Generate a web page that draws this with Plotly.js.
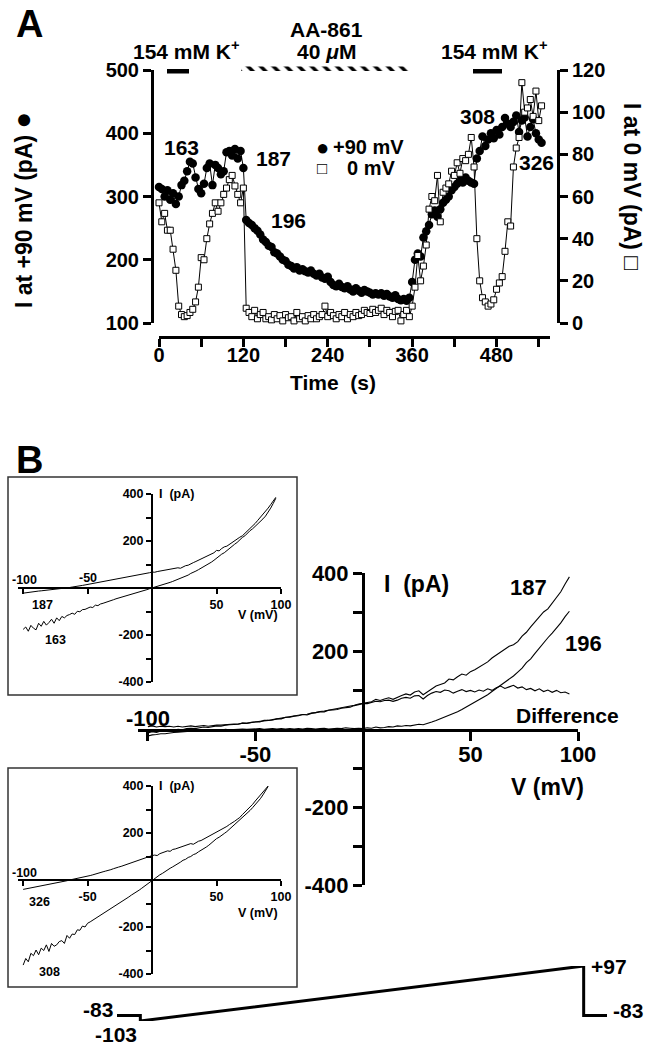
<!DOCTYPE html>
<html><head><meta charset="utf-8">
<script src="https://cdn.plot.ly/plotly-3.0.1.min.js"></script>
<style>html,body{margin:0;padding:0;background:#fff}</style>
</head><body><div id="g" style="width:653px;height:1049px"></div>
<script>
// ---------- Panel A data ----------
const timeS = [0,4,8,12,16,20,24,28,32,36,40,44,48,52,56,60,64,68,72,76,80,84,88,92,96,100,104,108,112,116,120,124,128,132,136,140,144,148,152,156,160,164,168,172,176,180,184,188,192,196,200,204,208,212,216,220,224,228,232,236,240,244,248,252,256,260,264,268,272,276,280,284,288,292,296,300,304,308,312,316,320,324,328,332,336,340,344,348,352,356,360,364,368,372,376,380,384,388,392,396,400,404,408,412,416,420,424,428,432,436,440,444,448,452,456,460,464,468,472,476,480,484,488,492,496,500,504,508,512,516,520,524,528,532,536,540,544];
const iPlus90 = [315,312,300,310,295,305,288,300,318,325,340,355,352,330,312,305,320,345,352,318,350,345,335,340,370,372,365,375,360,372,345,263,258,255,250,246,240,232,228,222,220,212,210,205,200,198,192,190,186,188,183,185,182,180,183,178,175,178,172,170,173,165,160,158,162,157,155,158,153,150,155,151,148,152,150,148,145,147,145,147,143,146,142,140,144,138,136,138,135,140,165,200,210,205,235,245,255,272,278,268,280,290,295,300,310,315,320,325,322,330,325,322,320,360,372,395,380,390,400,392,405,398,410,424,415,410,418,428,402,420,425,395,410,422,400,390,385];
const iZero = [57,48,52,44,44,35,25,8,4,3,3.5,5,6.5,10,17,31,30,40,47,52,57,53,57,61,64,68,70,65,61,57,64,7,5,3,6,2,4,5,2,3,1.5,4,2,3.5,1,4,2.5,3,1,5,2,3,1,3.5,2,4,2,3,4,8,3,5,3.5,2,4,3,5,2,4,3,5,3.5,4,6,5,4.5,6.5,5,6,7,4,6,5,3,5.5,6,1,4,6,3,8,17,32,20,27,37,54,60,58,70,48,62,64,66,72,70,76,71,78,77,80,88,74,40,20,12,10,8,9,11,16,19,22,34,48,46,74,83,88,114,100,102,106,98,110,96,103];
const barLabels = ['154 mM K+','AA-861 40 μM','154 mM K+'];
const barStart = [11,117,446];
const barDur = [32,239,42];
const tickA = [0,120,240,360,480];
const minorTickA = [60,180,300,420,540];

// ---------- Panel B main ----------
const vMain = [-100,-98,-96,-94,-92,-90,-88,-86,-84,-82,-80,-78,-76,-74,-72,-70,-68,-66,-64,-62,-60,-58,-56,-54,-52,-50,-48,-46,-44,-42,-40,-38,-36,-34,-32,-30,-28,-26,-24,-22,-20,-18,-16,-14,-12,-10,-8,-6,-4,-2,0,2,4,6,8,10,12,14,16,18,20,22,24,26,28,30,32,34,36,38,40,42,44,46,48,50,52,54,56,58,60,62,64,66,68,70,72,74,76,78,80,82,84,86,88,90,92,94,96];
const i187 = [-10,-7,-9,-5,-6,-3,-4,-1,-2,1,2,1,3,5,4,6,8,7,10,11,12,12,15,14,17,18,19,21,22,24,26,27,30,31,33,35,37,38,41,42,45,46,48,50,52,54,57,58,61,64,66,68,70,76,73,77,80,76,82,86,90,87,95,98,88,96,104,110,114,118,128,126,134,141,138,147,152,158,165,172,182,190,198,206,212,216,224,238,248,262,274,286,300,308,322,336,352,372,390];
const i196 = [-18,-15,-14,-12,-12,-10,-9,-8,-7,-6,-6,-5,-4,-4,-3,-3,-2,-3,-1,-2,-1,-1,0,-1,0,0,1,-1,0,1,0,1,0,1,0,1,0,2,1,0,1,2,0,1,2,1,3,2,1,2,1,3,2,5,3,4,6,5,8,7,9,8,10,12,11,14,18,22,26,30,36,40,44,50,56,62,68,76,82,88,96,104,110,118,126,136,146,156,170,180,194,208,222,234,246,258,272,288,302];
const iDiff = [6,8,5,7,6,7,5,7,5,7,8,6,7,9,7,9,10,10,11,13,13,13,15,15,17,18,18,22,22,23,26,26,30,30,33,34,37,36,40,42,44,44,48,49,50,53,54,56,60,62,65,65,68,71,70,73,74,71,74,79,81,79,85,86,77,86,92,96,94,100,98,92,97,101,96,99,95,100,97,103,99,106,110,104,108,112,105,108,101,104,98,103,96,100,94,99,93,95,90];

// ---------- Inset 1 (163, 187) ----------
const vIn1 = vMain;
const i187in = [-22,-20,-19,-18,-16,-15,-13,-12,-11,-10,-8,-7,-6,-5,-3,-2,-1,0,2,4,5,7,9,11,13,15,16,18,20,23,26,27,29,31,33,35,38,40,42,44,46,48,50,51,53,56,58,60,63,65,68,67,70,72,74,73,78,80,82,84,86,84,90,95,97,104,108,113,118,122,128,132,140,145,150,160,158,168,175,178,186,192,200,210,216,222,232,242,252,262,275,288,300,312,328,340,355,368,386];
const i163in = [-176,-166,-184,-159,-171,-178,-150,-163,-142,-158,-147,-133,-150,-127,-139,-121,-127,-117,-113,-107,-112,-99,-101,-92,-91,-86,-81,-83,-73,-75,-68,-65,-62,-58,-53,-50,-46,-43,-40,-35,-32,-30,-26,-22,-20,-17,-13,-10,-7,-3,0,4,7,10,14,17,21,24,28,32,36,40,46,50,55,62,66,72,78,84,90,95,103,110,118,128,134,144,150,160,168,176,186,194,205,215,222,234,244,252,262,272,280,294,306,322,340,360,382];

// ---------- Inset 2 (308, 326) ----------
const vIn2 = [-100,-98,-96,-94,-92,-90,-88,-86,-84,-82,-80,-78,-76,-74,-72,-70,-68,-66,-64,-62,-60,-58,-56,-54,-52,-50,-48,-46,-44,-42,-40,-38,-36,-34,-32,-30,-28,-26,-24,-22,-20,-18,-16,-14,-12,-10,-8,-6,-4,-2,0,2,4,6,8,10,12,14,16,18,20,22,24,26,28,30,32,34,36,38,40,42,44,46,48,50,52,54,56,58,60,62,64,66,68,70,72,74,76,78,80,82,84,86,88,90];
const i326in = [-40,-38,-36,-33,-31,-28,-27,-24,-22,-20,-18,-15,-14,-12,-9,-8,-5,-3,0,2,4,7,9,12,14,17,19,22,26,28,32,35,38,40,44,48,50,55,58,62,65,69,72,76,80,84,88,92,96,100,104,106,104,112,116,118,124,122,130,132,136,138,142,146,150,155,152,160,165,168,174,178,184,190,196,204,208,215,222,228,236,242,250,258,266,278,288,298,310,322,336,348,360,374,388,400];
const i308in = [-362,-334,-348,-312,-322,-298,-318,-290,-300,-276,-304,-270,-282,-276,-262,-258,-270,-236,-248,-230,-232,-212,-214,-196,-200,-184,-178,-171,-164,-158,-151,-145,-137,-129,-124,-115,-108,-100,-94,-86,-80,-72,-64,-58,-50,-43,-35,-27,-18,-9,0,8,15,22,28,36,42,50,56,62,70,76,84,88,96,100,108,112,120,126,134,140,148,158,166,176,182,192,198,206,216,224,234,244,254,262,276,286,296,308,320,334,346,362,380,398];

// ---------- Voltage protocol ----------
const protT = [0,20,20,400,400,420];
const protV = [-83,-83,-103,97,-83,-83];

const IVticks = [-400,-200,200,400];
const IVtickText = ['-400','-200','200','400'];
const IVminor = [-300,-100,100,300];

// ---------- helpers ----------
const W=653,H=1049;
const X=p=>p/W, Y=p=>1-p/H;
const FF='Liberation Sans, Arial, Helvetica, sans-serif';
const K='black';
function ann(text,x,y,size,o){return Object.assign({xref:'paper',yref:'paper',x:X(x),y:Y(y),text:text,showarrow:false,
  font:{family:FF,size:size,color:K,weight:'bold'},xanchor:'center',yanchor:'middle'},o||{});}
function axBase(o){return Object.assign({showgrid:false,zeroline:false,showline:true,linecolor:K,ticks:'outside',tickcolor:K,
  fixedrange:true},o);}
function minor(vals,len,w){return {tickvals:vals,ticks:'outside',ticklen:len,tickwidth:w,tickcolor:K,showgrid:false};}

const traces=[];
// Panel A
traces.push({x:timeS,y:iPlus90,xaxis:'x',yaxis:'y',type:'scatter',mode:'lines+markers',cliponaxis:false,
  line:{color:K,width:1},marker:{symbol:'circle',size:8.5,color:K}});
traces.push({x:timeS,y:iZero,xaxis:'x',yaxis:'y2',type:'scatter',mode:'lines+markers',cliponaxis:false,
  line:{color:K,width:1},marker:{symbol:'square',size:6,color:'white',line:{color:K,width:1}}});
// treatment bars
traces.push({type:'bar',orientation:'h',x:[barDur[0],barDur[2]],base:[barStart[0],barStart[2]],y:[0,0],
  xaxis:'x',yaxis:'y3',width:0.9,marker:{color:K,line:{width:0}},hoverinfo:'skip'});
traces.push({type:'bar',orientation:'h',x:[barDur[1]],base:[barStart[1]],y:[0],xaxis:'x',yaxis:'y3',width:0.9,
  marker:{color:'white',line:{width:0},pattern:{shape:'\\',fgcolor:K,bgcolor:'white',size:9,solidity:0.4,fillmode:'replace'}},hoverinfo:'skip'});
// Panel B main
[i187,i196,iDiff].forEach(a=>traces.push({x:vMain,y:a,xaxis:'x4',yaxis:'y4',type:'scatter',mode:'lines',cliponaxis:false,line:{color:K,width:1.1}}));
// Insets
[i187in,i163in].forEach(a=>traces.push({x:vIn1,y:a,xaxis:'x5',yaxis:'y5',type:'scatter',mode:'lines',cliponaxis:false,line:{color:K,width:1}}));
[i326in,i308in].forEach(a=>traces.push({x:vIn2,y:a,xaxis:'x6',yaxis:'y6',type:'scatter',mode:'lines',cliponaxis:false,line:{color:K,width:1}}));
// protocol
traces.push({x:protT,y:protV,xaxis:'x7',yaxis:'y7',type:'scatter',mode:'lines',cliponaxis:false,line:{color:K,width:3}});

const fA={family:FF,size:20,color:K,weight:'bold'};
const fB={family:FF,size:22,color:K,weight:'bold'};
const fI={family:FF,size:12.5,color:K,weight:'bold'};

const layout={width:W,height:H,margin:{l:0,r:0,t:0,b:0},paper_bgcolor:'white',plot_bgcolor:'rgba(0,0,0,0)',
 showlegend:false,font:{family:FF,color:K},bargap:0,
 xaxis:axBase({domain:[X(159),X(550)],range:[0,556],anchor:'free',position:Y(337),linewidth:3,ticklen:8,tickwidth:3,
   tickvals:tickA,tickfont:fA,ticklabelstandoff:-9,minor:minor(minorTickA,8,3)}),
 yaxis:axBase({domain:[Y(323),Y(70)],range:[100,500],anchor:'free',position:X(152),linewidth:3,ticklen:8,tickwidth:3,
   tickvals:[100,200,300,400,500],tickfont:fA}),
 yaxis2:axBase({overlaying:'y',side:'right',anchor:'free',position:X(558),range:[0,120],linewidth:3,ticklen:8,tickwidth:3,
   tickvals:[0,20,40,60,80,100,120],tickfont:fA}),
 yaxis3:{domain:[Y(73.5),Y(66.5)],range:[-0.5,0.5],visible:false,anchor:'x',fixedrange:true},
 xaxis4:axBase({domain:[X(138),X(578)],range:[-104.6,100],anchor:'free',position:Y(730),linewidth:3,ticklen:9,tickwidth:3,
   tickvals:[-50,50,100],ticktext:['-50','50','100'],tickfont:fB,ticklabelstandoff:-5,minor:minor([-100],9,3)}),
 yaxis4:axBase({domain:[Y(885),Y(573)],range:[-400,400],anchor:'free',position:X(363),linewidth:3,ticklen:9,tickwidth:3,
   tickvals:IVticks,ticktext:IVtickText,tickfont:fB,minor:minor(IVminor,9,3)}),
 xaxis5:axBase({domain:[X(18),X(281)],range:[-104,100],anchor:'free',position:Y(588),linewidth:2,ticklen:5,tickwidth:2,
   tickvals:[50,100],ticktext:['50','100'],tickfont:fI,minor:minor([-100,-50],5,2)}),
 yaxis5:axBase({domain:[Y(682),Y(494)],range:[-400,400],anchor:'free',position:X(152),linewidth:2,ticklen:5,tickwidth:2,
   tickvals:IVticks,ticktext:IVtickText,tickfont:fI,minor:minor(IVminor,5,2)}),
 xaxis6:axBase({domain:[X(18),X(281)],range:[-104,100],anchor:'free',position:Y(880),linewidth:2,ticklen:5,tickwidth:2,
   tickvals:[-50,50,100],ticktext:['-50','50','100'],tickfont:fI,minor:minor([-100],5,2)}),
 yaxis6:axBase({domain:[Y(974),Y(786)],range:[-400,400],anchor:'free',position:X(152),linewidth:2,ticklen:5,tickwidth:2,
   tickvals:IVticks,ticktext:IVtickText,tickfont:fI,minor:minor(IVminor,5,2)}),
 xaxis7:{domain:[X(117),X(607)],range:[0,420],visible:false,anchor:'y7',fixedrange:true},
 yaxis7:{domain:[Y(1021),Y(966)],range:[-103,97],visible:false,anchor:'x7',fixedrange:true},
 shapes:[
  {type:'rect',xref:'paper',yref:'paper',x0:X(8),x1:X(297),y0:Y(695),y1:Y(477),line:{color:'#333',width:1.5}},
  {type:'rect',xref:'paper',yref:'paper',x0:X(8),x1:X(297),y0:Y(987),y1:Y(768),line:{color:'#333',width:1.5}}
 ],
 annotations:[
  ann('A',29,24,38),
  ann('B',29,460,38),
  ann('154 mM K<sup>+</sup>',186,50,21),
  ann('AA-861',326,29,21),
  ann('40 <i>μ</i>M',326,51,21),
  ann('154 mM K<sup>+</sup>',494,50,21),
  ann('●',322,147,22),
  ann('+90 mV',331,147,20,{xanchor:'left'}),
  ann('□',322,168,17),
  ann('0 mV',345,168,20,{xanchor:'left'}),
  ann('163',181,147,21),
  ann('187',273,158,21),
  ann('196',288,220,21),
  ann('308',477,117,21),
  ann('326',536,163,21),
  ann('I at +90 mV (pA) <span style="font-size:28px">●</span>',22,210,23,{textangle:-90}),
  ann('I at 0 mV (pA) □',632,186,23,{textangle:90}),
  ann('Time  (s)',333,383,21),
  // main B
  ann('I  (pA)',416,584,23),
  ann('V (mV)',547,787,23),
  ann('187',528,587,22),
  ann('196',583,643,22),
  ann('Difference',567,715,21),
  ann('-100',148,718,22),
  // inset 1
  ann('I  (pA)',157,494,12.5,{xanchor:'left'}),
  ann('V (mV)',258,615,12.5),
  ann('-100',25,580,12.5),
  ann('-50',88,578,12.5),
  ann('187',42,605,12.5),
  ann('163',55,640,12.5),
  // inset 2
  ann('I  (pA)',157,786,12.5,{xanchor:'left'}),
  ann('V (mV)',258,913,12.5),
  ann('-100',25,873,12.5),
  ann('326',39,902,12.5),
  ann('308',50,972,12.5),
  // protocol
  ann('-83',115,1009,21,{xanchor:'right'}),
  ann('-103',116,1034,21),
  ann('+97',589,966,21,{xanchor:'left'}),
  ann('-83',611,1010,21,{xanchor:'left'})
 ]
};
Plotly.newPlot('g',traces,layout,{staticPlot:true,displayModeBar:false});
</script></body></html>
